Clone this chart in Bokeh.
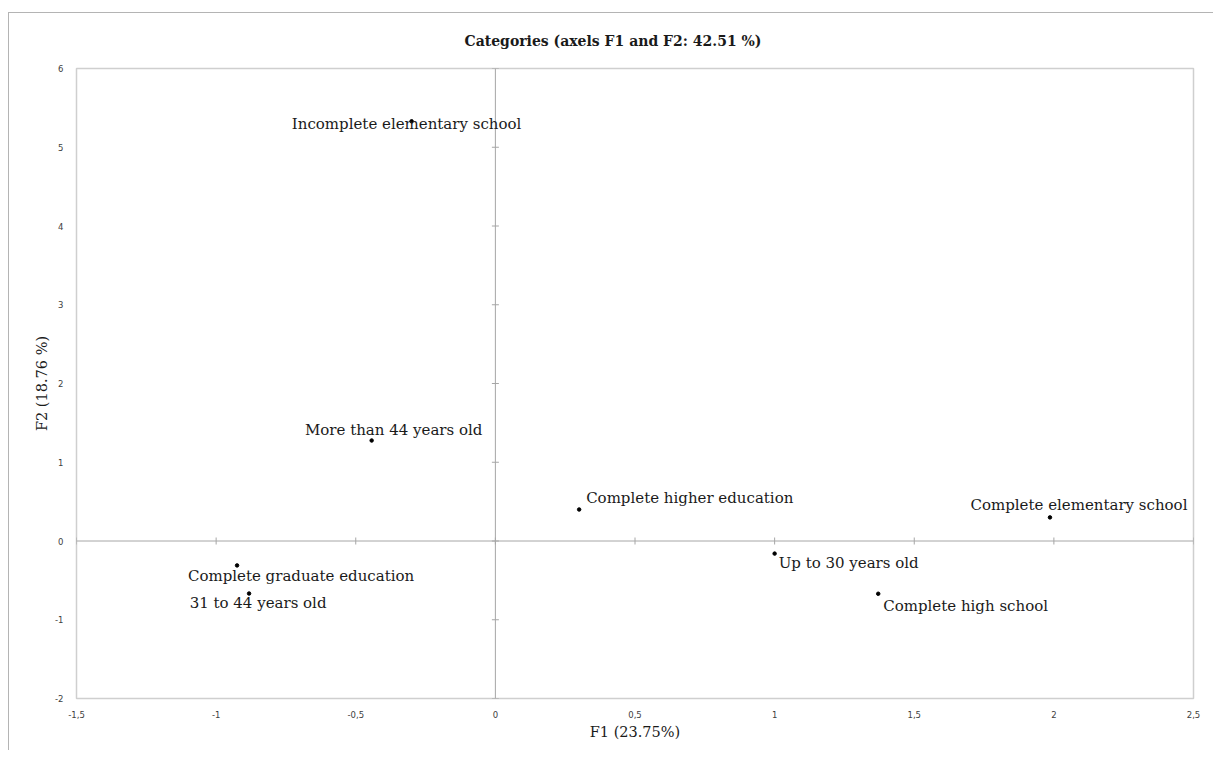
import math
from bokeh.plotting import figure
from bokeh.models import ColumnDataSource, FixedTicker, Span, Range1d, LabelSet
from bokeh.core.properties import value
from bokeh.embed import file_html
from bokeh.resources import INLINE

# ---- data ----
categories = [
    "Incomplete elementary school",
    "More than 44 years old",
    "Complete higher education",
    "Complete elementary school",
    "Up to 30 years old",
    "Complete high school",
    "Complete graduate education",
    "31 to 44 years old",
]
f1 = [-0.30, -0.443, 0.30, 1.986, 1.00, 1.371, -0.925, -0.882]
f2 = [5.33, 1.276, 0.40, 0.30, -0.16, -0.67, -0.31, -0.667]

x_ticks = [-1.5, -1, -0.5, 0, 0.5, 1, 1.5, 2, 2.5]
x_tick_labels = ["-1,5", "-1", "-0,5", "0", "0,5", "1", "1,5", "2", "2,5"]
y_ticks = [-2, -1, 0, 1, 2, 3, 4, 5, 6]
y_tick_labels = ["-2", "-1", "0", "1", "2", "3", "4", "5", "6"]

title_text = "Categories (axels F1 and F2: 42.51 %)"
x_title = "F1 (23.75%)"
y_title = "F2 (18.76 %)"

# label placement (style only, pixel offsets; y offsets are upward in Bokeh's label space)
label_align = ["center", "center", "left", "center", "left", "left", "center", "center"]
label_dx = [-5, 22, 7, 29, 4, 5, 64, 9]
label_dy = [-3, 11, 12, 12, -9, -12, -11, -9]

SERIF = "DejaVu Serif"

p = figure(
    output_backend="svg",
    toolbar_location=None,
    frame_width=1117,
    frame_height=630,
    min_border_left=67,
    min_border_right=20,
    min_border_top=55,
    min_border_bottom=52,
    x_range=Range1d(-1.5, 2.5),
    y_range=Range1d(-2, 6),
    background_fill_color="white",
    border_fill_color="white",
)
p.margin = (12, 0, 0, 8)
p.styles = {"border-top": "1px solid #b4b4b4", "border-left": "1px solid #b4b4b4"}

p.grid.visible = False
p.outline_line_color = "#cfcfcf"
p.outline_line_width = 1.5

# title
p.title.text = title_text
p.title.text_font = SERIF
p.title.text_font_style = "bold"
p.title.text_font_size = "14px"
p.title.align = "left"
p.title.offset = 388
p.title.vertical_align = "middle"
p.title.standoff = 37
p.title.text_color = "#1a1a1a"

# axes
for ax, ticks, labels in ((p.xaxis[0], x_ticks, x_tick_labels), (p.yaxis[0], y_ticks, y_tick_labels)):
    ax.ticker = FixedTicker(ticks=ticks)
    ax.major_label_overrides = {t: l for t, l in zip(ticks, labels)}
    ax.axis_line_color = None
    ax.major_tick_line_color = None
    ax.minor_tick_line_color = None
    ax.major_label_text_font = "DejaVu Sans"
    ax.major_label_text_font_size = "8.5px"
    ax.major_label_text_color = "#404040"
    ax.axis_label_text_font = SERIF
    ax.axis_label_text_font_style = "normal"
    ax.axis_label_text_font_size = "14.5px"
    ax.axis_label_text_color = "#1a1a1a"

p.xaxis.major_label_standoff = 6
p.yaxis.major_label_standoff = 7
p.xaxis.axis_label = x_title
p.xaxis.axis_label_standoff = 3
p.yaxis.axis_label = y_title
p.yaxis.axis_label_standoff = 2

# zero lines
p.add_layout(Span(location=0, dimension="height", line_color="#a6a6a6", line_width=1))
p.add_layout(Span(location=0, dimension="width", line_color="#a6a6a6", line_width=1))

# cross tick marks on the zero lines
p.scatter(x=[0] * len(y_ticks), y=y_ticks, marker="dash", size=7, line_color="#a6a6a6", line_width=1)
p.scatter(x=x_ticks, y=[0] * len(x_ticks), marker="dash", size=7, angle=math.pi / 2,
          line_color="#a6a6a6", line_width=1)

# points
src = ColumnDataSource(dict(x=f1, y=f2, name=categories, align=label_align, dx=label_dx, dy=label_dy))
p.scatter("x", "y", source=src, size=3.5, color="black")
labels = LabelSet(x="x", y="y", text="name", source=src, text_align="align", text_baseline="middle",
                  x_offset="dx", y_offset="dy", text_font_size="15px", text_color="#1a1a1a",
                  text_font=value(SERIF))
p.add_layout(labels)

open("out.html", "w").write(file_html(p, INLINE))
